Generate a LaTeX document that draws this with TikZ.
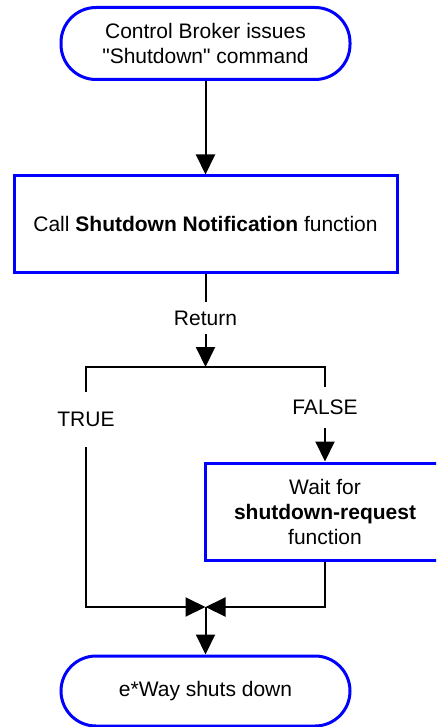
\documentclass[tikz,border=0pt]{standalone}
\usepackage{fontspec}
\setmainfont[Ligatures=ResetAll]{Liberation Sans}
\usetikzlibrary{arrows.meta}
\definecolor{boxblue}{RGB}{0,0,255}
\begin{document}
\begin{tikzpicture}[x=1pt,y=-1pt,
  every node/.style={font=\fontsize{21}{25}\selectfont, align=center, inner sep=0pt},
  term/.style={draw=boxblue, line width=3pt, rounded corners=35pt, minimum width=289pt, minimum height=72pt, fill=white},
  proc/.style={draw=boxblue, line width=3pt, rectangle, fill=white},
  lbl/.style={fill=white, minimum width=10pt},
  conn/.style={draw=black, line width=2pt},
  arr/.style={conn, -{Triangle[length=20pt,width=19pt]}}
]
\clip (0,0) rectangle (436,727);
\fill[white] (0,0) rectangle (436,727);

\node[term] (start) at (205.5,43.5) {Control Broker issues\\\textquotedbl Shutdown\textquotedbl{} command};
\node[proc, minimum width=383pt, minimum height=96pt] (call) at (205.5,224)
  {Call \textbf{Shutdown Notification} function};
\node[lbl, minimum height=32pt] (ret) at (205.5,318) {Return};
\coordinate (split) at (205.5,367);
\node[lbl, minimum height=55pt] (true) at (86,419.5) {TRUE};
\node[lbl, minimum height=41pt] (false) at (325,407.5) {FALSE};
\node[proc, minimum width=240pt, minimum height=97pt] (wait) at (325,511.5)
  {Wait for\\\textbf{shutdown-request}\\function};
\coordinate (join) at (205.5,607);
\node[term, minimum height=70pt] (end) at (205.5,691) {e*Way shuts down};

\draw[arr] (start) -- (call);
\draw[conn] (call) -- (ret);
\draw[arr] (ret) -- (split);
\draw[conn] (true.north) -- (true.north |- split) -- (false.north |- split) -- (false.north);
\draw[arr] (false) -- (wait);
\draw[arr] (true.south) |- (join);
\draw[arr] (wait.south) |- (join);
\draw[arr] (join) -- (end);
\end{tikzpicture}
\end{document}
